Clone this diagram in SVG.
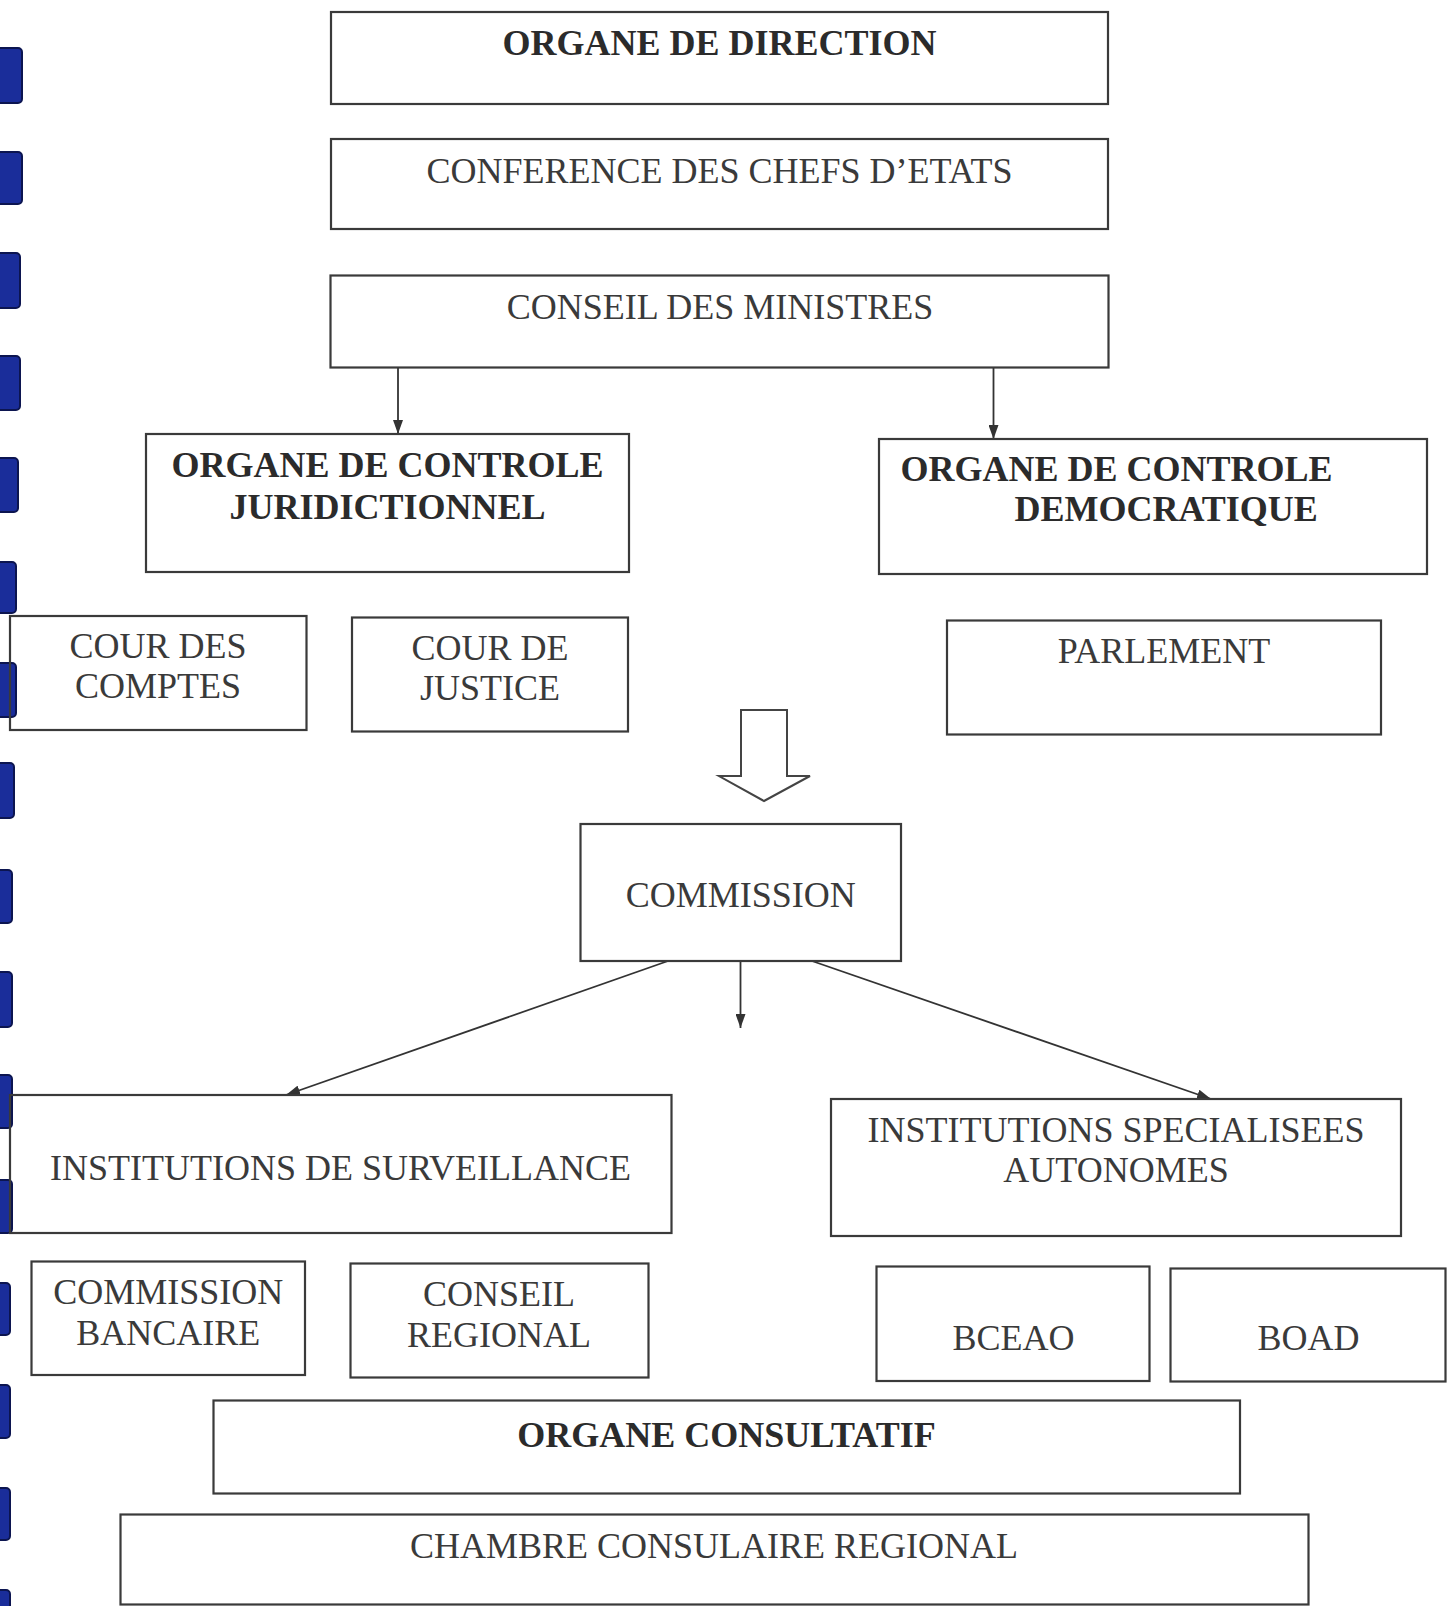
<svg xmlns="http://www.w3.org/2000/svg" width="1455" height="1606" viewBox="0 0 1455 1606">
<defs>
<style>
.box{fill:none;stroke:#3a3a3a;stroke-width:2.2}
.t{font-family:"Liberation Serif","Times New Roman",serif;font-size:36px;fill:#3a3a3a}
.b{font-weight:bold;fill:#2b2b2b}
.m{text-anchor:middle}
.c{stroke:#333;stroke-width:1.8;fill:none}
.bind{fill:#1a2d9a;stroke:#0c1550;stroke-width:2}
</style>
<marker id="ah" viewBox="0 0 14 10" refX="14" refY="5" markerWidth="14" markerHeight="10" markerUnits="userSpaceOnUse" orient="auto"><path d="M0,0 L14,5 L0,10 z" fill="#333"/></marker>
</defs>
<rect width="1455" height="1606" fill="#ffffff"/>

<g id="binding">
<rect class="bind" x="-4" y="48" width="26" height="55" rx="4"/>
<rect class="bind" x="-4" y="152" width="26" height="52" rx="4"/>
<rect class="bind" x="-4" y="253" width="24" height="55" rx="4"/>
<rect class="bind" x="-4" y="356" width="24" height="54" rx="4"/>
<rect class="bind" x="-4" y="458" width="22" height="54" rx="4"/>
<rect class="bind" x="-4" y="562" width="20" height="51" rx="4"/>
<rect class="bind" x="-4" y="663" width="20" height="54" rx="4"/>
<rect class="bind" x="-4" y="763" width="18" height="55" rx="4"/>
<rect class="bind" x="-4" y="870" width="16" height="53" rx="4"/>
<rect class="bind" x="-4" y="972" width="16" height="55" rx="4"/>
<rect class="bind" x="-4" y="1075" width="16" height="53" rx="4"/>
<rect class="bind" x="-4" y="1180" width="16" height="53" rx="4"/>
<rect class="bind" x="-4" y="1283" width="14" height="52" rx="4"/>
<rect class="bind" x="-4" y="1385" width="14" height="53" rx="4"/>
<rect class="bind" x="-4" y="1488" width="14" height="52" rx="4"/>
<rect class="bind" x="-4" y="1590" width="14" height="20" rx="4"/>
</g>

<g id="connectors">
<line class="c" x1="398" y1="367" x2="398" y2="434" marker-end="url(#ah)"/>
<line class="c" x1="993.5" y1="367" x2="993.5" y2="439" marker-end="url(#ah)"/>
<polygon points="741,710 787,710 787,776 810,776 764,801 719,776 741,776" fill="#ffffff" stroke="#444" stroke-width="2"/>
<line class="c" x1="668" y1="961" x2="286" y2="1095" marker-end="url(#ah)"/>
<line class="c" x1="740.5" y1="961" x2="740.5" y2="1028" marker-end="url(#ah)"/>
<line class="c" x1="812" y1="961" x2="1211" y2="1099" marker-end="url(#ah)"/>
</g>

<g id="organe-direction">
<rect class="box" x="331" y="12" width="777" height="92"/>
<text class="t b m" x="719.5" y="55">ORGANE DE DIRECTION</text>
</g>
<g id="conference">
<rect class="box" x="331" y="139" width="777" height="90"/>
<text class="t m" x="719.5" y="182.5">CONFERENCE DES CHEFS D’ETATS</text>
</g>
<g id="conseil-ministres">
<rect class="box" x="330.5" y="275.5" width="778" height="92"/>
<text class="t m" x="720" y="319">CONSEIL DES MINISTRES</text>
</g>
<g id="controle-juridictionnel">
<rect class="box" x="146" y="434" width="483" height="138"/>
<text class="t b m" x="387.5" y="477">ORGANE DE CONTROLE</text>
<text class="t b m" x="387.5" y="519">JURIDICTIONNEL</text>
</g>
<g id="controle-democratique">
<rect class="box" x="879" y="439" width="548" height="135"/>
<text class="t b" x="900.5" y="480.5">ORGANE DE CONTROLE</text>
<text class="t b" x="1014.5" y="520.5">DEMOCRATIQUE</text>
</g>
<g id="cour-comptes">
<rect class="box" x="10" y="616" width="296.5" height="114"/>
<text class="t m" x="158" y="658">COUR DES</text>
<text class="t m" x="158" y="698">COMPTES</text>
</g>
<g id="cour-justice">
<rect class="box" x="352" y="617.5" width="276" height="114"/>
<text class="t m" x="490" y="660">COUR DE</text>
<text class="t m" x="490" y="700">JUSTICE</text>
</g>
<g id="parlement">
<rect class="box" x="947" y="620.5" width="434" height="114"/>
<text class="t m" x="1164" y="663">PARLEMENT</text>
</g>
<g id="commission">
<rect class="box" x="580.5" y="824" width="320.5" height="137"/>
<text class="t m" x="740.7" y="906.5">COMMISSION</text>
</g>
<g id="institutions-surveillance">
<rect class="box" x="10" y="1095" width="661.5" height="138"/>
<text class="t m" x="340.5" y="1180">INSTITUTIONS DE SURVEILLANCE</text>
</g>
<g id="institutions-specialisees">
<rect class="box" x="831" y="1099" width="570" height="137"/>
<text class="t m" x="1116" y="1141.5">INSTITUTIONS SPECIALISEES</text>
<text class="t m" x="1116" y="1181.5">AUTONOMES</text>
</g>
<g id="commission-bancaire">
<rect class="box" x="31.5" y="1261.5" width="273.5" height="113.5"/>
<text class="t m" x="168.3" y="1304">COMMISSION</text>
<text class="t m" x="168.3" y="1345">BANCAIRE</text>
</g>
<g id="conseil-regional">
<rect class="box" x="350.5" y="1263.5" width="298" height="114"/>
<text class="t m" x="499" y="1306">CONSEIL</text>
<text class="t m" x="499" y="1346.5">REGIONAL</text>
</g>
<g id="bceao">
<rect class="box" x="876.5" y="1266.5" width="273" height="114.5"/>
<text class="t m" x="1013.5" y="1350">BCEAO</text>
</g>
<g id="boad">
<rect class="box" x="1170.5" y="1268.5" width="275" height="113"/>
<text class="t m" x="1308.5" y="1350">BOAD</text>
</g>
<g id="organe-consultatif">
<rect class="box" x="213.5" y="1400.5" width="1026.5" height="93"/>
<text class="t b m" x="726.5" y="1446.5">ORGANE CONSULTATIF</text>
</g>
<g id="chambre-consulaire">
<rect class="box" x="120.5" y="1514.5" width="1188" height="90"/>
<text class="t m" x="714" y="1558">CHAMBRE CONSULAIRE REGIONAL</text>
</g>
</svg>
